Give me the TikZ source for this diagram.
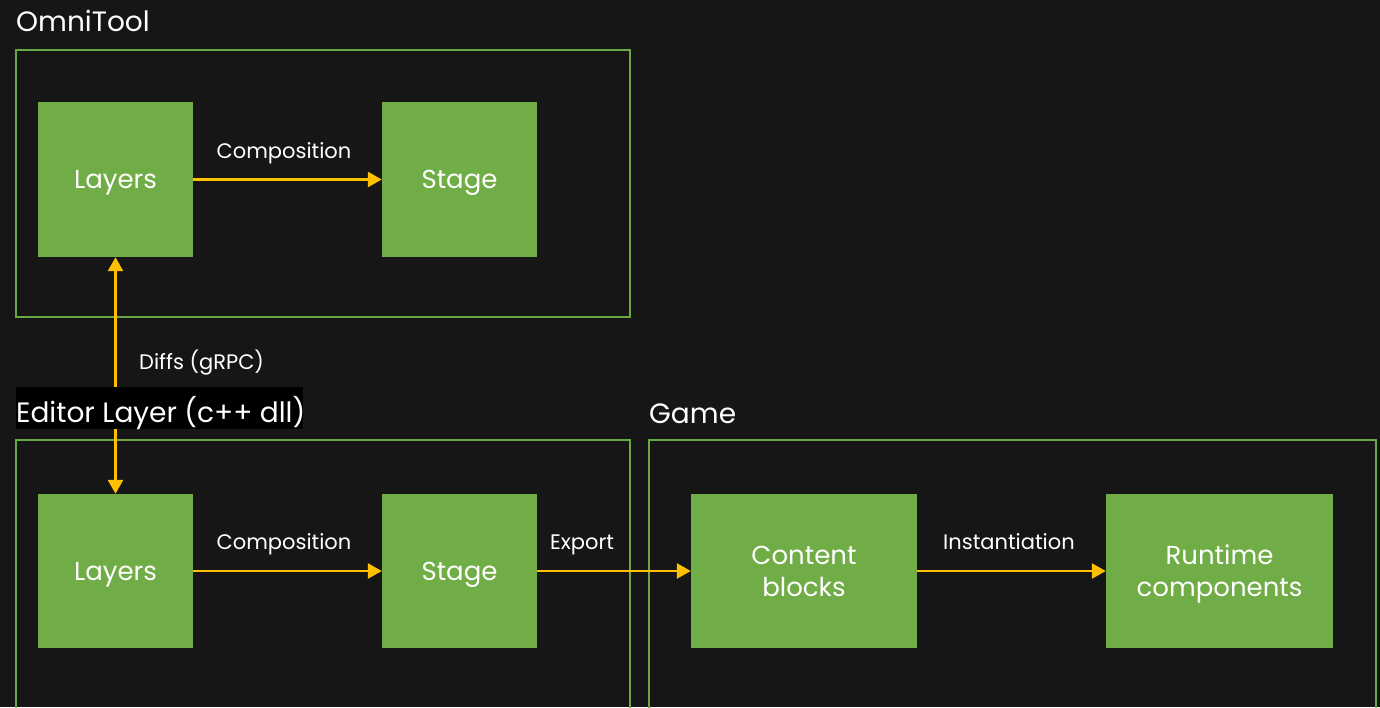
\documentclass[tikz,border=0pt]{standalone}
\usepackage{fontspec}
\setmainfont{Poppins}
\usetikzlibrary{arrows.meta}
\definecolor{bg}{HTML}{161616}
\definecolor{boxgreen}{HTML}{70AD47}
\definecolor{framegreen}{HTML}{6AA843}
\definecolor{arrorange}{HTML}{FFC000}
\tikzset{
  blk/.style={fill=boxgreen, draw=none, minimum height=155pt, inner sep=0pt, text=white, align=center,
    text depth=0pt, font=\fontsize{26}{32}\selectfont},
  frm/.style={draw=framegreen, line width=1.4pt},
  ttl/.style={anchor=base west, inner sep=0pt, text=white, font=\fontsize{28}{32}\selectfont},
  lbl/.style={anchor=base, inner sep=0pt, text=white, font=\fontsize{21}{26}\selectfont},
  flow/.style={draw=arrorange, line width=2.6pt, -{Triangle[length=14pt,width=15pt]}},
}
\begin{document}
\begin{tikzpicture}[x=1pt,y=-1pt]
\fill[bg] (0,0) rectangle (1380,707);
\useasboundingbox (0,0) rectangle (1380,707);
% frames
\draw[frm] (16,50) rectangle (630,317);
\draw[frm] (16,440) rectangle (630,730);
\draw[frm] (649,440) rectangle (1376,730);
% titles
\node[ttl] (tomni) at (16,31) {OmniTool};
\node[ttl] (tgame) at (649,423) {Game};
% boxes
\node[blk, minimum width=155pt] (l1) at (115.5,179.5) {Layers};
\node[blk, minimum width=155pt] (s1) at (459.5,179.5) {Stage};
\node[blk, minimum width=155pt, minimum height=154pt] (l2) at (115.5,571) {Layers};
\node[blk, minimum width=155pt, minimum height=154pt] (s2) at (459.5,571) {Stage};
\node[blk, minimum width=226pt, minimum height=154pt] (cb) at (804,571) {Content\\blocks};
\node[blk, minimum width=227pt, minimum height=154pt] (rc) at (1219.5,571) {Runtime\\components};
% arrows
\draw[flow] (l1) -- (s1);
\draw[flow] (l2) -- (s2);
\draw[flow] (s2) -- (cb);
\draw[flow] (cb) -- (rc);
\draw[draw=arrorange, line width=2.6pt, {Triangle[length=14pt,width=15pt]}-{Triangle[length=14pt,width=15pt]}] (l1.south) -- (l2.north);
% labels
\node[lbl] (c1) at (284,158) {Composition};
\node[lbl] (c2) at (284,549) {Composition};
\node[lbl] (ex) at (582,549) {Export};
\node[lbl] (in) at (1009,549) {Instantiation};
\node[lbl, anchor=base west] (df) at (139,369) {Diffs (gRPC)};
% editor title with black background
\fill[black] (16,387) rectangle (303,429);
\node[ttl] (tedit) at (16,422) {Editor Layer (c++ dll)};
\end{tikzpicture}
\end{document}
